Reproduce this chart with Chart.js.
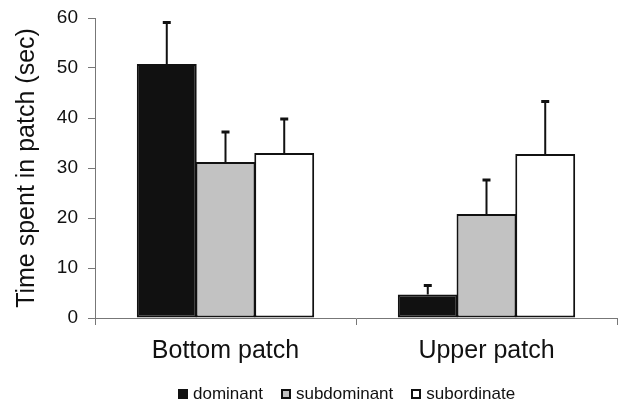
<!DOCTYPE html>
<html>
<head>
<meta charset="utf-8">
<script src="https://cdn.jsdelivr.net/npm/chart.js@4.4.1/dist/chart.umd.min.js"></script>
<style>
  html, body { margin: 0; padding: 0; background: #fff; }
  #wrap { position: relative; width: 620px; height: 403px; }
  #legend {
    position: absolute; left: 178px; top: 384px; height: 20px;
    display: flex; align-items: center;
    font: 17px "Liberation Sans", Arial, sans-serif; color: #111;
  }
  #legend .item { display: flex; align-items: center; margin-right: 18px; }
  #legend .box { width: 6px; height: 6px; border: 2px solid #111; margin-right: 5px; }
</style>
</head>
<body>
<div id="wrap">
  <canvas id="chart" width="620" height="403"></canvas>
  <div id="legend"></div>
</div>
<script>
// values
const categories = ['Bottom patch', 'Upper patch'];
const seriesNames = ['dominant', 'subdominant', 'subordinate'];
const dominant = [50.8, 4.7];
const subdominant = [31.2, 20.8];
const subordinate = [33.0, 32.8];
// upper error (added on top of the bar)
const dominantErr = [8.5, 2.0];
const subdominantErr = [6.2, 7.0];
const subordinateErr = [7.0, 10.7];
const yTicks = [0, 10, 20, 30, 40, 50, 60];

const FONT = '"Liberation Sans", Arial, sans-serif';
const fills = ['#111', '#c2c2c2', '#fff'];

// draws a single upward error bar with a small cap
const errorBars = {
  id: 'errorBars',
  afterDatasetsDraw(chart) {
    const { ctx } = chart;
    const y = chart.scales.y;
    chart.data.datasets.forEach((ds, i) => {
      const meta = chart.getDatasetMeta(i);
      meta.data.forEach((bar, j) => {
        const top = y.getPixelForValue(ds.data[j] + ds.err[j]);
        ctx.save();
        ctx.strokeStyle = '#111';
        ctx.lineWidth = 2;
        ctx.beginPath();
        ctx.moveTo(bar.x, bar.y);
        ctx.lineTo(bar.x, top);
        ctx.stroke();
        ctx.lineWidth = 3;
        ctx.beginPath();
        ctx.moveTo(bar.x - 4, top + 1);
        ctx.lineTo(bar.x + 4, top + 1);
        ctx.stroke();
        ctx.restore();
      });
    });
  }
};

const barStyle = { borderColor: '#111', borderWidth: 2, borderSkipped: false, inflateAmount: 0 };
const values = [dominant, subdominant, subordinate];
const errs = [dominantErr, subdominantErr, subordinateErr];

new Chart(document.getElementById('chart'), {
  type: 'bar',
  data: {
    labels: categories,
    datasets: seriesNames.map((name, i) => ({
      label: name, data: values[i], err: errs[i], backgroundColor: fills[i], ...barStyle,
    })),
  },
  options: {
    responsive: false,
    animation: false,
    layout: { padding: { top: 18, right: 3, left: 0, bottom: 33 } },
    datasets: { bar: { categoryPercentage: 0.675, barPercentage: 1.02 } },
    plugins: {
      legend: { display: false },
      tooltip: { enabled: false },
    },
    scales: {
      x: {
        grid: { offset: true, drawOnChartArea: false, tickLength: 7, color: '#777' },
        border: { color: '#777', width: 1 },
        ticks: { font: { family: FONT, size: 25 }, color: '#111', padding: 11 },
        afterFit(scale) { scale.height = 52; },
      },
      y: {
        min: 0,
        max: 60,
        afterBuildTicks(scale) { scale.ticks = yTicks.map(v => ({ value: v })); },
        grid: { drawOnChartArea: false, tickLength: 7, color: '#777' },
        border: { color: '#777', width: 1 },
        ticks: { font: { family: FONT, size: 19 }, color: '#111', padding: 10 },
        title: {
          display: true,
          text: 'Time spent in patch (sec)',
          font: { family: FONT, size: 25 },
          color: '#111',
          padding: { top: 12, bottom: 0 },
        },
        afterFit(scale) {
          scale.width = 95;
          scale.paddingTop = 0;
          scale.paddingBottom = 0;
        },
      },
    },
  },
  plugins: [errorBars],
});

// legend below the plot
const legend = document.getElementById('legend');
seriesNames.forEach((name, i) => {
  const item = document.createElement('div');
  item.className = 'item';
  const box = document.createElement('span');
  box.className = 'box';
  box.style.background = fills[i];
  item.appendChild(box);
  item.appendChild(document.createTextNode(name));
  legend.appendChild(item);
});
</script>
</body>
</html>
